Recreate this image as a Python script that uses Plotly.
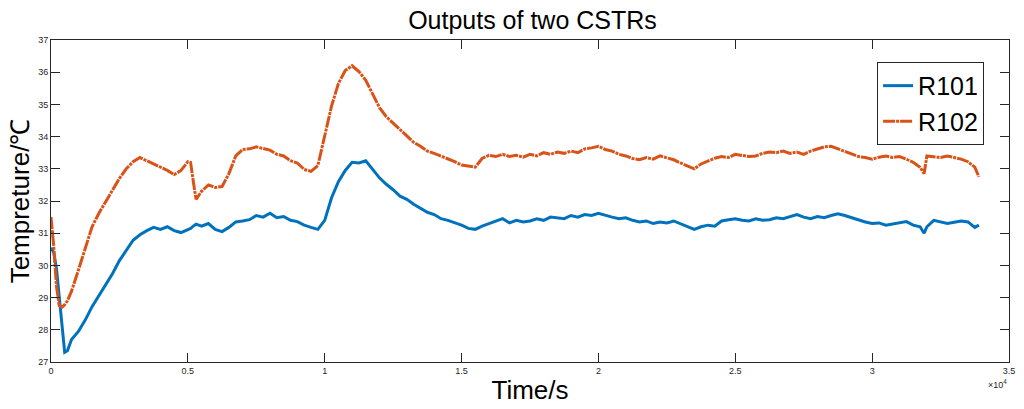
import plotly.graph_objects as go

# Sample times (s) shared by both reactor outlet temperature records
time_s = [
    0, 100, 200, 300, 400, 500, 600, 750,
    1000, 1250, 1500, 1750, 2000, 2250, 2500, 2750, 3000, 3250, 3500, 3750,
    4000, 4250, 4500, 4750, 5000, 5100, 5200, 5300, 5500, 5750,
    6000, 6250, 6500, 6750, 7000, 7250, 7500, 7750,
    8000, 8250, 8500, 8750, 9000, 9250, 9500, 9750,
    10000, 10250, 10500, 10750, 11000, 11250, 11500, 11750,
    12000, 12250, 12500, 12750, 13000, 13250, 13500, 13750,
    14000, 14250, 14500, 14750, 15000, 15250, 15500, 15750,
    16000, 16250, 16500, 16750, 17000, 17250, 17500, 17750,
    18000, 18250, 18500, 18750, 19000, 19250, 19500, 19750,
    20000, 20250, 20500, 20750, 21000, 21250, 21500, 21750,
    22000, 22250, 22500, 22750, 23000, 23250, 23500, 23750,
    24000, 24250, 24500, 24750, 25000, 25250, 25500, 25750,
    26000, 26250, 26500, 26750, 27000, 27250, 27500, 27750,
    28000, 28250, 28500, 28750, 29000, 29250, 29500, 29750,
    30000, 30250, 30500, 30750, 31000, 31250, 31500, 31750, 31900,
    32000, 32250, 32500, 32750, 33000, 33250, 33500, 33750, 33900,
]

# R101 outlet temperature (deg C)
r101 = [
    30.55, 30.40, 29.90, 29.00, 28.05, 27.30, 27.35, 27.70,
    27.95, 28.30, 28.72, 29.05, 29.38, 29.75, 30.15, 30.45, 30.78, 30.95, 31.08, 31.18,
    31.12, 31.20, 31.08, 31.02, 31.12, 31.15, 31.22, 31.28, 31.22, 31.30,
    31.12, 31.05, 31.18, 31.35, 31.38, 31.42, 31.55, 31.50,
    31.62, 31.48, 31.52, 31.40, 31.36, 31.25, 31.18, 31.12,
    31.40, 32.10, 32.60, 32.95, 33.20, 33.18, 33.25, 33.00,
    32.72, 32.52, 32.35, 32.15, 32.05, 31.90, 31.78, 31.65,
    31.58, 31.45, 31.40, 31.33, 31.25, 31.15, 31.12, 31.22,
    31.30, 31.38, 31.45, 31.32, 31.40, 31.35, 31.38, 31.45,
    31.40, 31.50, 31.48, 31.45, 31.55, 31.50, 31.58, 31.55,
    31.62, 31.55, 31.50, 31.45, 31.48, 31.40, 31.35, 31.38,
    31.30, 31.35, 31.32, 31.38, 31.30, 31.22, 31.12, 31.20,
    31.25, 31.22, 31.38, 31.42, 31.45, 31.40, 31.38, 31.45,
    31.40, 31.42, 31.48, 31.45, 31.52, 31.58, 31.50, 31.45,
    31.52, 31.48, 31.55, 31.60, 31.55, 31.48, 31.40, 31.35,
    31.30, 31.32, 31.25, 31.28, 31.33, 31.36, 31.25, 31.20, 31.00,
    31.20, 31.40, 31.35, 31.30, 31.34, 31.38, 31.35, 31.18, 31.25,
]

# R102 outlet temperature (deg C)
r102 = [
    31.50, 30.60, 29.35, 28.75, 28.70, 28.78, 28.90, 29.20,
    29.85, 30.55, 31.20, 31.62, 31.98, 32.35, 32.70, 33.00, 33.22, 33.35, 33.25, 33.15,
    33.05, 32.95, 32.82, 32.95, 33.22, 33.20, 32.60, 32.05, 32.30, 32.50,
    32.42, 32.45, 32.85, 33.40, 33.60, 33.62, 33.68, 33.62,
    33.58, 33.45, 33.40, 33.25, 33.18, 32.98, 32.92, 33.10,
    34.05, 34.95, 35.65, 36.05, 36.20, 36.02, 35.75, 35.30,
    34.90, 34.62, 34.42, 34.25, 34.02, 33.82, 33.70, 33.55,
    33.48, 33.40, 33.30, 33.22, 33.12, 33.08, 33.05, 33.32,
    33.42, 33.38, 33.45, 33.38, 33.42, 33.36, 33.45, 33.40,
    33.50, 33.45, 33.52, 33.48, 33.55, 33.50, 33.62, 33.65,
    33.70, 33.60, 33.55, 33.45, 33.40, 33.32, 33.28, 33.35,
    33.30, 33.40, 33.35, 33.28, 33.18, 33.10, 33.00, 33.15,
    33.25, 33.33, 33.38, 33.35, 33.45, 33.42, 33.38, 33.40,
    33.48, 33.52, 33.50, 33.55, 33.48, 33.52, 33.45, 33.55,
    33.62, 33.68, 33.70, 33.62, 33.55, 33.45, 33.38, 33.35,
    33.30, 33.36, 33.40, 33.35, 33.38, 33.30, 33.20, 33.05, 32.85,
    33.40, 33.38, 33.35, 33.40, 33.36, 33.30, 33.22, 33.05, 32.75,
]

x_tickvals = [0, 5000, 10000, 15000, 20000, 25000, 30000, 35000]
x_ticktext = ["0", "0.5", "1", "1.5", "2", "2.5", "3", "3.5"]
y_tickvals = [27, 28, 29, 30, 31, 32, 33, 34, 35, 36, 37]

BLUE = "#0072BD"
ORANGE = "#D95319"
AX = "#262626"
FONT = "Liberation Sans, Arial, Helvetica, sans-serif"

fig = go.Figure()
fig.add_trace(go.Scatter(
    x=time_s, y=r101, name="R101", mode="lines",
    line=dict(color=BLUE, width=3),
))
fig.add_trace(go.Scatter(
    x=time_s, y=r102, name="R102", mode="lines",
    line=dict(color=ORANGE, width=3, dash="12px,1px,3px,1px"),
))

axis_common = dict(
    showline=True, linecolor=AX, linewidth=1, mirror="ticks",
    ticks="inside", ticklen=9, tickcolor=AX, tickwidth=1,
    showgrid=False, zeroline=False,
    tickfont=dict(family=FONT, size=9, color=AX),
)

fig.update_layout(
    width=1024, height=409,
    margin=dict(l=51, r=9, t=40, b=47),
    paper_bgcolor="white", plot_bgcolor="white",
    font=dict(family=FONT, color="#000000"),
    title=dict(
        text="Outputs of two CSTRs", x=0.52, xanchor="center",
        y=0.95, yanchor="middle", font=dict(size=25, color="#000000"),
    ),
    xaxis=dict(
        range=[0, 35000], tickvals=x_tickvals, ticktext=x_ticktext,
        title=dict(text="Time/s", font=dict(size=26, color="#000000"), standoff=6),
        **axis_common,
    ),
    yaxis=dict(
        range=[27, 37], tickvals=y_tickvals,
        title=dict(text="Tempreture/℃", font=dict(size=26, color="#000000"), standoff=1),
        **axis_common,
    ),
    legend=dict(
        x=0.974, y=0.932, xanchor="right", yanchor="top",
        bordercolor=AX, borderwidth=1, bgcolor="white",
        font=dict(family=FONT, size=25, color="#000000"),
        tracegroupgap=0, itemwidth=30,
    ),
    hovermode=False,
    showlegend=True,
)

fig.add_annotation(
    text="×10<sup>4</sup>", xref="paper", yref="paper",
    x=1.0, y=-0.045, xanchor="right", yanchor="top", showarrow=False,
    font=dict(family=FONT, size=9, color=AX),
)

fig.write_html("out.html")
